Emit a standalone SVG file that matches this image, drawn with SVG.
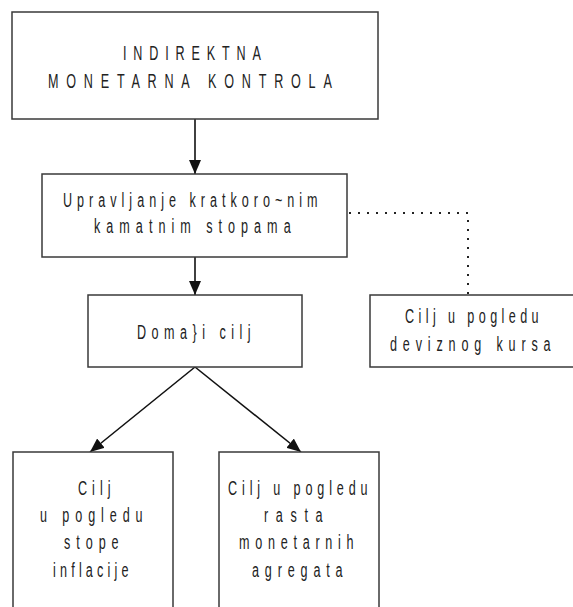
<svg xmlns="http://www.w3.org/2000/svg" width="573" height="607" viewBox="0 0 573 607">
<style>
.box{fill:#fff;stroke:#3a3a3a;stroke-width:1.5}
.t{font-family:"Liberation Sans",Arial,sans-serif;font-size:21px;fill:#222;letter-spacing:9px}
.c{letter-spacing:12px}
.ln{stroke:#111;stroke-width:1.6;fill:none}
.dot{stroke:#222;stroke-width:2;fill:none;stroke-dasharray:2 7}
</style>
<defs>
<marker id="ah" viewBox="0 0 14 12" refX="14" refY="6" markerWidth="14" markerHeight="12" markerUnits="userSpaceOnUse" orient="auto">
<path d="M0,0 L14,6 L0,12 Z" fill="#111"/>
</marker>
</defs>
<rect width="573" height="607" fill="#fff"/>
<g id="connectors">
<line class="ln" x1="195" y1="119" x2="195" y2="174" marker-end="url(#ah)"/>
<line class="ln" x1="195" y1="257" x2="195" y2="295" marker-end="url(#ah)"/>
<line class="ln" x1="195" y1="367" x2="90" y2="452" marker-end="url(#ah)"/>
<line class="ln" x1="195" y1="367" x2="301" y2="452" marker-end="url(#ah)"/>
<path class="dot" d="M349,213 H468 V295"/>
</g>
<g id="n1">
<rect class="box" x="12" y="12" width="366" height="107"/>
<g transform="scale(0.6 1)">
<text class="t c" x="205" y="60" textLength="241.7" lengthAdjust="spacing">INDIREKTNA</text>
<text class="t c" x="80" y="88" textLength="485" lengthAdjust="spacing">MONETARNA KONTROLA</text>
</g>
</g>
<g id="n2">
<rect class="box" x="42" y="174" width="305" height="83"/>
<g transform="scale(0.6 1)">
<text class="t" x="105" y="207" textLength="433.3" lengthAdjust="spacing">Upravljanje kratkoro~nim</text>
<text class="t" x="156.7" y="233" textLength="336.7" lengthAdjust="spacing">kamatnim stopama</text>
</g>
</g>
<g id="n3">
<rect class="box" x="88" y="295" width="214" height="72"/>
<g transform="scale(0.6 1)">
<text class="t" x="228.3" y="339" textLength="198.3" lengthAdjust="spacing">Doma}i cilj</text>
</g>
</g>
<g id="n4">
<path class="box" d="M573,295 H370 V367 H573"/>
<g transform="scale(0.6 1)">
<text class="t" x="675" y="323" textLength="231.7" lengthAdjust="spacing">Cilj u pogledu</text>
<text class="t" x="650" y="351" textLength="276.7" lengthAdjust="spacing">deviznog kursa</text>
</g>
</g>
<g id="n5">
<path class="box" d="M13,607 V452 H173 V607"/>
<g transform="scale(0.6 1)">
<text class="t" x="130" y="495" textLength="63.3" lengthAdjust="spacing">Cilj</text>
<text class="t" x="66.7" y="522" textLength="180" lengthAdjust="spacing">u pogledu</text>
<text class="t" x="106.7" y="549" textLength="100" lengthAdjust="spacing">stope</text>
<text class="t" x="88.3" y="577" textLength="135" lengthAdjust="spacing">inflacije</text>
</g>
</g>
<g id="n6">
<path class="box" d="M219,607 V452 H379 V607"/>
<g transform="scale(0.6 1)">
<text class="t" x="380" y="495" textLength="241.7" lengthAdjust="spacing">Cilj u pogledu</text>
<text class="t" x="440" y="522" textLength="106.7" lengthAdjust="spacing">rasta</text>
<text class="t" x="398.3" y="549" textLength="200" lengthAdjust="spacing">monetarnih</text>
<text class="t" x="420" y="577" textLength="160" lengthAdjust="spacing">agregata</text>
</g>
</g>
</svg>
